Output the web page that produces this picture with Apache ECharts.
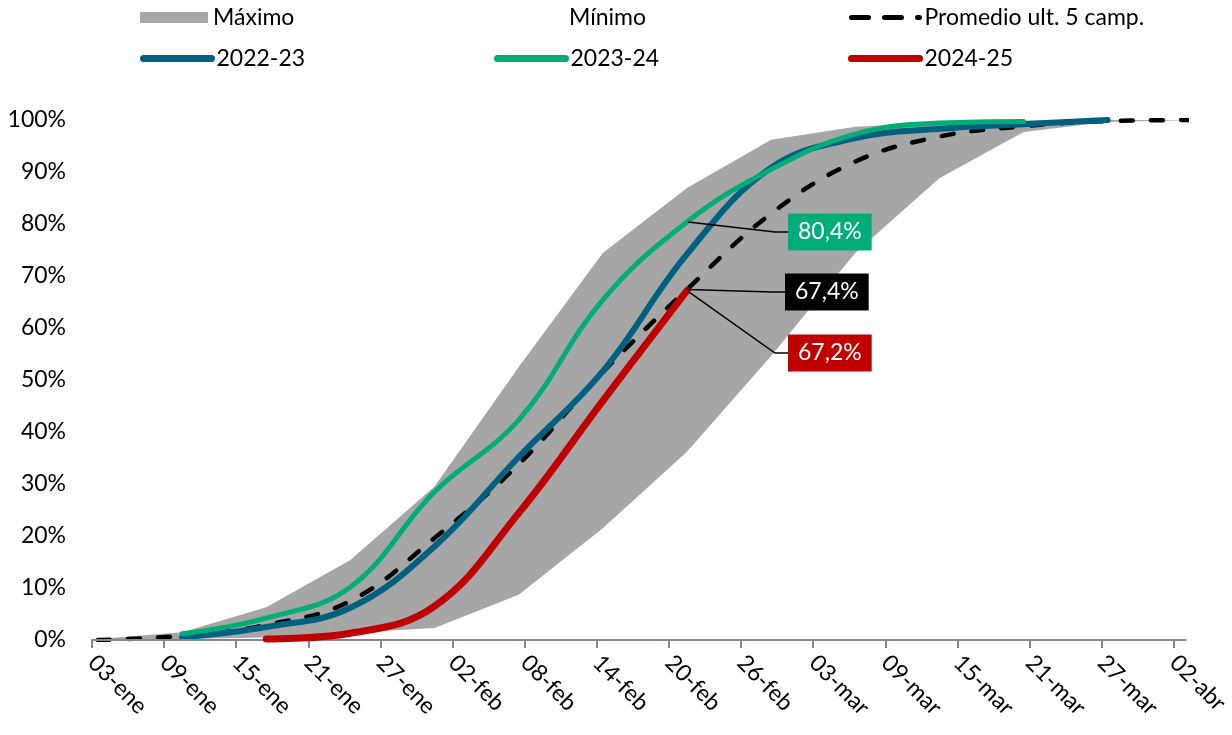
<!DOCTYPE html>
<html>
<head>
<meta charset="utf-8">
<title>Avance de campaña</title>
<script src="https://cdn.jsdelivr.net/npm/echarts@6/dist/echarts.min.js"></script>
<style>
  html, body { margin: 0; padding: 0; background: #fff; }
  #grafico { width: 1232px; height: 735px; }
</style>
</head>
<body>
<div id="grafico"></div>
<script>
// fechas semanales (se toma 2024 como base, año bisiesto)
var semanas = ['03-ene','10-ene','17-ene','24-ene','31-ene','07-feb','14-feb','21-feb','28-feb','06-mar','13-mar','20-mar','27-mar','03-abr'];

// % de avance acumulado
var maximo   = [0.2, 1.5, 6.3, 15.4, 29.5, 52.5, 74.4, 86.9, 96.2, 98.7, 99.5, 99.9, 100, 100];
var minimo   = [0, 0.2, 0.5, 1.4, 2.3, 8.7, 21.5, 36.2, 54.6, 74.4, 88.8, 97.7, 99.6, 100];
var promedio = [0, 0.8, 2.9, 7.5, 19.6, 33.8, 51.5, 67.4, 82.0, 92.0, 96.8, 98.8, 99.8, 100];
var c2223    = [null, 0.5, 2.5, 6.2, 18.0, 35.2, 51.7, 74.2, 90.8, 96.5, 98.3, 99.2, 100, null];
var c2324    = [null, 1.2, 4.2, 10.2, 28.5, 42.3, 65.4, 80.4, 90.5, 97.3, 99.4, 99.7, null, null];
var c2425    = [null, null, 0.2, 1.3, 6.5, 24.4, 46.0, 67.2, null, null, null, null, null, null];

var etiquetasX = ['03-ene','09-ene','15-ene','21-ene','27-ene','02-feb','08-feb','14-feb','20-feb','26-feb','03-mar','09-mar','15-mar','21-mar','27-mar','02-abr'];

var meses = {ene: 0, feb: 1, mar: 2, abr: 3};
function diaDe(txt) {
    var p = txt.split('-');
    return Math.round((Date.UTC(2024, meses[p[1]], +p[0]) - Date.UTC(2024, 0, 3)) / 86400000);
}
// cada dato semanal se dibuja a mitad del dia (como en el eje de fechas de excel)
function serie(valores) {
    return semanas.map(function (s, i) { return [diaDe(s) + 0.5, valores[i]]; })
        .filter(function (p) { return p[1] != null; });
}
var diasTick = etiquetasX.map(diaDe);

var fuente = 'Lato';
var gris = '#a6a6a6', azul = '#00607f', verde = '#00ad78', rojo = '#c00000';

// etiquetas del ultimo dato de la campaña actual
var iEtiq = semanas.indexOf('21-feb');
var etiqValores = [c2324[iEtiq], promedio[iEtiq], c2425[iEtiq]];
var etiqColores = [verde, '#000', rojo];
var cajaX = [788, 785, 788];
var cajaY = [232, 292, 353];

function leyenda(nombre, left, top, extra) {
    var base = {
        data: [nombre], left: left, top: top, padding: 0,
        itemWidth: 68, itemHeight: 12, itemGap: 0, selectedMode: false,
        textStyle: {color: '#000', fontFamily: fuente, fontSize: 23}
    };
    return Object.assign(base, extra || {});
}
var sinPunto = {opacity: 0};

var chart = echarts.init(document.getElementById('grafico'));
chart.setOption({
    animation: false,
    backgroundColor: '#fff',
    grid: {left: 92, right: 46, top: 120, bottom: 95},
    legend: [
        leyenda('Máximo', 140, 6, {icon: 'rect', itemHeight: 11}),
        leyenda('Mínimo', 496, 6, {icon: 'rect', itemHeight: 11}),
        leyenda('Promedio ult. 5 camp.', 849, 6, {itemStyle: sinPunto, lineStyle: {width: 5, type: [17, 16], cap: 'round'}}),
        leyenda('2022-23', 140, 47, {itemStyle: sinPunto, lineStyle: {width: 7, cap: 'round'}}),
        leyenda('2023-24', 494, 47, {itemStyle: sinPunto, lineStyle: {width: 7, cap: 'round'}}),
        leyenda('2024-25', 848, 47, {itemStyle: sinPunto, lineStyle: {width: 7, cap: 'round'}})
    ],
    xAxis: {
        type: 'value', min: 0, max: 91, z: 5,
        axisLine: {show: true, onZero: false, lineStyle: {color: '#7f8891', width: 2}},
        axisTick: {show: true, length: 8, customValues: diasTick, lineStyle: {color: '#7f8891', width: 2}},
        axisLabel: {
            customValues: diasTick, rotate: -45, margin: 19,
            color: '#000', fontFamily: fuente, fontSize: 23,
            formatter: function (v) { var i = diasTick.indexOf(v); return i < 0 ? '' : etiquetasX[i]; }
        },
        splitLine: {show: false}
    },
    yAxis: {
        type: 'value', min: 0, max: 100, interval: 10,
        axisLine: {show: false}, axisTick: {show: false}, splitLine: {show: false},
        axisLabel: {formatter: '{value}%', margin: 26, color: '#000', fontFamily: fuente, fontSize: 23}
    },
    series: [
        {
            name: 'Máximo', type: 'line', data: serie(maximo), symbol: 'none',
            color: gris, lineStyle: {width: 0}, areaStyle: {color: gris, opacity: 1}, z: 1
        },
        {
            name: 'Mínimo', type: 'line', data: serie(minimo), symbol: 'none',
            color: '#fff', lineStyle: {width: 0}, areaStyle: {color: '#fff', opacity: 1}, z: 1
        },
        {
            name: 'Promedio ult. 5 camp.', type: 'line', data: serie(promedio), symbol: 'none', smooth: 0.4,
            color: '#000', lineStyle: {color: '#000', width: 4.5, type: [12, 18], cap: 'round'}, z: 2
        },
        {
            name: '2022-23', type: 'line', data: serie(c2223), symbol: 'none', smooth: 0.4,
            color: azul, lineStyle: {color: azul, width: 6, cap: 'round'}, z: 3
        },
        {
            name: '2023-24', type: 'line', data: serie(c2324), symbol: 'none', smooth: 0.4,
            color: verde, lineStyle: {color: verde, width: 5, cap: 'round'}, z: 4
        },
        {
            name: '2024-25', type: 'line', data: serie(c2425), symbol: 'none', smooth: 0.4,
            color: rojo, lineStyle: {color: rojo, width: 7, cap: 'round'}, z: 5
        },
        {
            name: 'etiquetas', type: 'scatter', z: 6, symbolSize: 2,
            data: etiqValores.map(function (v, i) {
                return {value: [diaDe('21-feb') + 0.5, v], itemStyle: {color: etiqColores[i], opacity: 1},
                        label: {backgroundColor: etiqColores[i]}};
            }),
            label: {
                show: true, color: '#fff', fontFamily: fuente, fontSize: 23, padding: [7, 10],
                formatter: function (p) { return p.value[1].toFixed(1).replace('.', ',') + '%'; }
            },
            labelLine: {show: true, length2: 13, lineStyle: {color: '#000', width: 1.5, opacity: 1}},
            labelLayout: function (p) {
                return {x: cajaX[p.dataIndex], y: cajaY[p.dataIndex], align: 'left', verticalAlign: 'middle'};
            }
        }
    ]
});
</script>
</body>
</html>
